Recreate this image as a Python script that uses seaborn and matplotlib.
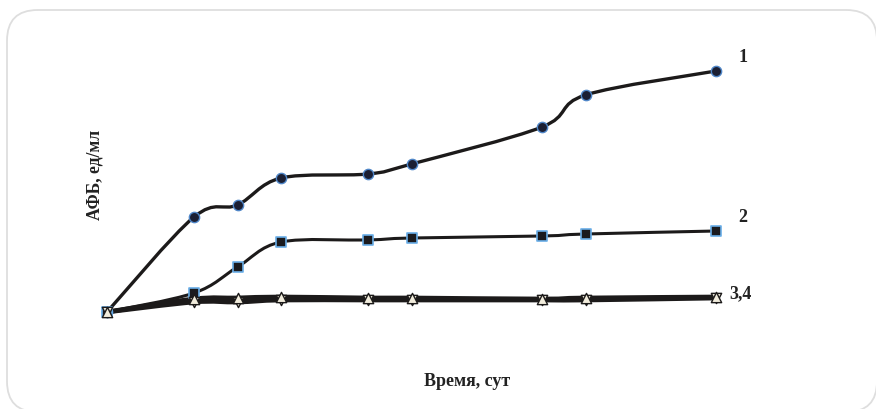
import numpy as np
import seaborn as sns
import matplotlib.pyplot as plt
from matplotlib.path import Path
from matplotlib.patches import PathPatch, FancyBboxPatch

# days of measurement
days = [0, 2, 3, 4, 6, 7, 10, 11, 14]

# AFB values (arbitrary units)
s1 = [0, 9.5, 10.7, 13.4, 13.8, 14.8, 18.5, 21.7, 24.1]
s2 = [0, 1.9, 4.5, 7.0, 7.2, 7.4, 7.6, 7.8, 8.1]
s3 = [0, 1.0, 1.0, 1.2, 1.2, 1.2, 1.2, 1.2, 1.4]
s4 = [0, 1.3, 1.4, 1.5, 1.4, 1.4, 1.3, 1.4, 1.5]

labels = ["1", "2", "3,4"]
serif = "Liberation Serif"


def smooth_path(x, y):
    # catmull-rom style bezier through the points (like a spreadsheet "smoothed line")
    pts = np.column_stack([x, y]).astype(float)
    n = len(pts)
    verts = [pts[0]]
    codes = [Path.MOVETO]
    for i in range(n - 1):
        p0 = pts[i - 1] if i > 0 else pts[i]
        p1 = pts[i]
        p2 = pts[i + 1]
        p3 = pts[i + 2] if i + 2 < n else pts[i + 1]
        c1 = p1 + (p2 - p0) / 6
        c2 = p2 - (p3 - p1) / 6
        verts += [c1, c2, p2]
        codes += [Path.CURVE4] * 3
    return Path(verts, codes)


sns.set_style("white")
fig = plt.figure(figsize=(8.76, 4.09), dpi=100)

# rounded frame around the chart
frame = FancyBboxPatch((7 / 876, 1 - 412 / 409), 870 / 876, (412 - 10) / 409,
                       boxstyle="round,pad=0,rounding_size=0.035",
                       transform=fig.transFigure, fill=False,
                       edgecolor="#dedede", linewidth=1.3, mutation_aspect=876 / 409)
fig.patches.append(frame)

ax = fig.add_axes([107 / 876, 1 - 312 / 409, (716 - 107) / 876, (312 - 71) / 409])
ax.set_xlim(0, 14)
ax.set_ylim(0, 24.1)
ax.axis("off")

for ys, lw in [(s1, 2.4), (s2, 2.2), (s3, 3.4), (s4, 3.4)]:
    ax.add_patch(PathPatch(smooth_path(days, ys), fill=False, edgecolor="#1c1a1a",
                           linewidth=lw, clip_on=False, capstyle="round", zorder=2))

sns.scatterplot(x=days, y=s1, ax=ax, marker="o", s=55, color="#1b1f33",
                edgecolor="#4f86c8", linewidth=1.0, clip_on=False, zorder=4)
sns.scatterplot(x=days, y=s2, ax=ax, marker="s", s=60, color="#1b1b1f",
                edgecolor="#6aaee8", linewidth=1.2, clip_on=False, zorder=4)
sns.scatterplot(x=days, y=s3, ax=ax, marker="v", s=55, color="#f1ecdc",
                edgecolor="#1c1a1a", linewidth=1.0, clip_on=False, zorder=5)
sns.scatterplot(x=days, y=s4, ax=ax, marker="^", s=55, color="#f1ecdc",
                edgecolor="#1c1a1a", linewidth=1.0, clip_on=False, zorder=5)

# series labels at the right end
fig.text(743 / 876, 1 - 58 / 409, labels[0], fontsize=13, fontweight="bold",
         family=serif, ha="center", va="center", color="#222222")
fig.text(743 / 876, 1 - 218 / 409, labels[1], fontsize=13, fontweight="bold",
         family=serif, ha="center", va="center", color="#222222")
fig.text(740 / 876, 1 - 294 / 409, labels[2], fontsize=13, fontweight="bold",
         family=serif, ha="center", va="center", color="#222222")

fig.text(467 / 876, 1 - 382 / 409, "Время, сут", fontsize=13, fontweight="bold",
         family=serif, ha="center", va="center", color="#222222")
fig.text(95 / 876, 1 - 175 / 409, "АФБ, ед/мл", fontsize=12.7, fontweight="bold",
         family=serif, ha="center", va="center", rotation=90, color="#222222")

fig.savefig("out.png", dpi=100)
